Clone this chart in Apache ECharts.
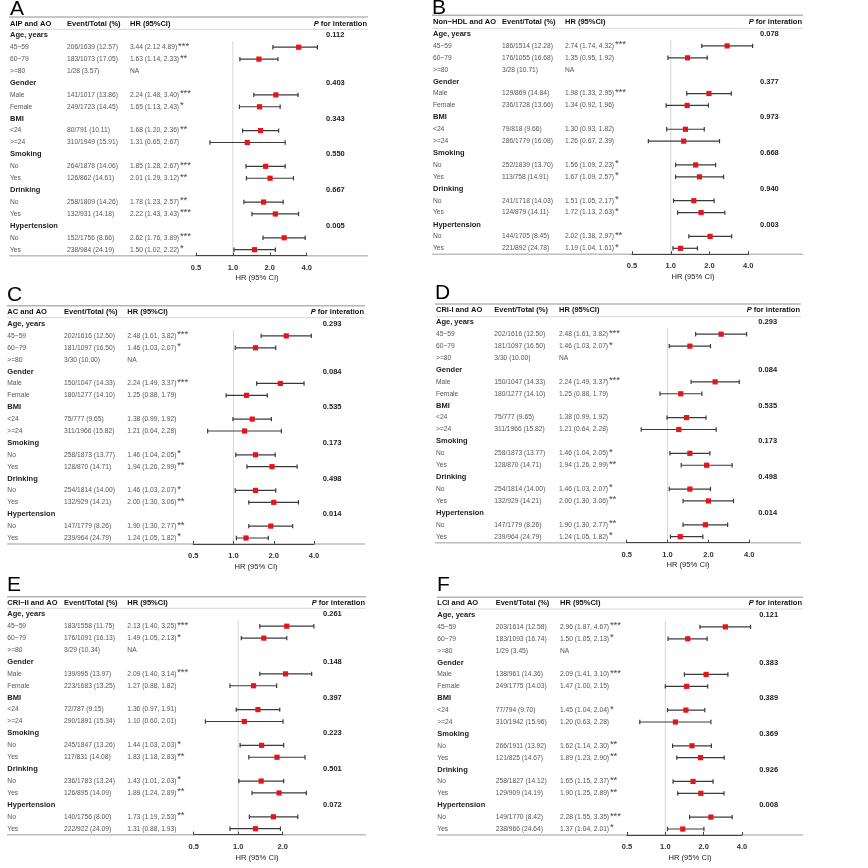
<!DOCTYPE html>
<html>
<head>
<meta charset="utf-8">
<script src="https://cdn.jsdelivr.net/npm/echarts@6.0.0/dist/echarts.min.js"></script>
<style>
  html, body { margin: 0; padding: 0; background: #fff; }
  #main { width: 868px; height: 868px; }
</style>
</head>
<body>
<div id="main"></div>
<script>
// rows of every forest plot (group headers + subgroups)
var rowLabels = ['Age, years', '45~59', '60~79', '>=80', 'Gender', 'Male', 'Female', 'BMI', '<24', '>=24',
  'Smoking', 'No', 'Yes', 'Drinking', 'No', 'Yes', 'Hypertension', 'No', 'Yes'];
var groupRows = [0, 4, 7, 10, 13, 16];
var subRows = [1, 2, 3, 5, 6, 8, 9, 11, 12, 14, 15, 17, 18];

// A: AIP
var aipEvents = ['206/1639 (12.57)', '183/1073 (17.05)', '1/28 (3.57)', '141/1017 (13.86)', '249/1723 (14.45)', '80/791 (10.11)', '310/1949 (15.91)', '264/1878 (14.06)', '126/862 (14.61)', '258/1809 (14.26)', '132/931 (14.18)', '152/1756 (8.66)', '238/984 (24.19)'];
var aipHR = [3.44, 1.63, null, 2.24, 1.65, 1.68, 1.31, 1.85, 2.01, 1.78, 2.22, 2.62, 1.50];
var aipLow = [2.12, 1.14, null, 1.48, 1.13, 1.20, 0.65, 1.28, 1.29, 1.23, 1.43, 1.76, 1.02];
var aipHigh = [4.89, 2.33, null, 3.40, 2.43, 2.36, 2.67, 2.67, 3.12, 2.57, 3.43, 3.89, 2.22];
var aipSig = ['***', '**', '', '***', '*', '**', '', '***', '**', '**', '***', '***', '*'];
var aipP = ['0.112', '0.403', '0.343', '0.550', '0.667', '0.005'];

// B: Non-HDL
var nhdlEvents = ['186/1514 (12.28)', '176/1055 (16.68)', '3/28 (10.71)', '129/869 (14.84)', '236/1728 (13.66)', '79/818 (9.66)', '286/1779 (16.08)', '252/1839 (13.70)', '113/758 (14.91)', '241/1718 (14.03)', '124/879 (14.11)', '144/1705 (8.45)', '221/892 (24.78)'];
var nhdlHR = [2.74, 1.35, null, 1.98, 1.34, 1.30, 1.26, 1.56, 1.67, 1.51, 1.72, 2.02, 1.19];
var nhdlLow = [1.74, 0.95, null, 1.33, 0.92, 0.93, 0.67, 1.09, 1.09, 1.05, 1.13, 1.38, 1.04];
var nhdlHigh = [4.32, 1.92, null, 2.95, 1.96, 1.82, 2.39, 2.23, 2.57, 2.17, 2.63, 2.97, 1.61];
var nhdlSig = ['***', '', '', '***', '', '', '', '*', '*', '*', '*', '**', '*'];
var nhdlP = ['0.078', '0.377', '0.973', '0.668', '0.940', '0.003'];

// C: AC
var acEvents = ['202/1616 (12.50)', '181/1097 (16.50)', '3/30 (10.00)', '150/1047 (14.33)', '180/1277 (14.10)', '75/777 (9.65)', '311/1966 (15.82)', '258/1873 (13.77)', '128/870 (14.71)', '254/1814 (14.00)', '132/929 (14.21)', '147/1779 (8.26)', '239/964 (24.79)'];
var acHR = [2.48, 1.46, null, 2.24, 1.25, 1.38, 1.21, 1.46, 1.94, 1.46, 2.00, 1.90, 1.24];
var acLow = [1.61, 1.03, null, 1.49, 0.88, 0.99, 0.64, 1.04, 1.26, 1.03, 1.30, 1.30, 1.05];
var acHigh = [3.82, 2.07, null, 3.37, 1.79, 1.92, 2.28, 2.05, 2.99, 2.07, 3.06, 2.77, 1.82];
var acSig = ['***', '*', '', '***', '', '', '', '*', '**', '*', '**', '**', '*'];
var acP = ['0.293', '0.084', '0.535', '0.173', '0.498', '0.014'];

// D: CRI-I
var cri1Events = ['202/1616 (12.50)', '181/1097 (16.50)', '3/30 (10.00)', '150/1047 (14.33)', '180/1277 (14.10)', '75/777 (9.65)', '311/1966 (15.82)', '258/1873 (13.77)', '128/870 (14.71)', '254/1814 (14.00)', '132/929 (14.21)', '147/1779 (8.26)', '239/964 (24.79)'];
var cri1HR = [2.48, 1.46, null, 2.24, 1.25, 1.38, 1.21, 1.46, 1.94, 1.46, 2.00, 1.90, 1.24];
var cri1Low = [1.61, 1.03, null, 1.49, 0.88, 0.99, 0.64, 1.04, 1.26, 1.03, 1.30, 1.30, 1.05];
var cri1High = [3.82, 2.07, null, 3.37, 1.79, 1.92, 2.28, 2.05, 2.99, 2.07, 3.06, 2.77, 1.82];
var cri1Sig = ['***', '*', '', '***', '', '', '', '*', '**', '*', '**', '**', '*'];
var cri1P = ['0.293', '0.084', '0.535', '0.173', '0.498', '0.014'];

// E: CRI-II
var cri2Events = ['183/1558 (11.75)', '176/1091 (16.13)', '3/29 (10.34)', '139/995 (13.97)', '223/1683 (13.25)', '72/787 (9.15)', '290/1891 (15.34)', '245/1847 (13.26)', '117/831 (14.08)', '236/1783 (13.24)', '126/895 (14.09)', '140/1756 (8.00)', '222/922 (24.09)'];
var cri2HR = [2.13, 1.49, null, 2.09, 1.27, 1.36, 1.10, 1.44, 1.83, 1.43, 1.89, 1.73, 1.31];
var cri2Low = [1.40, 1.05, null, 1.40, 0.88, 0.97, 0.60, 1.03, 1.18, 1.01, 1.24, 1.19, 0.88];
var cri2High = [3.25, 2.13, null, 3.14, 1.82, 1.91, 2.01, 2.03, 2.83, 2.03, 2.89, 2.53, 1.93];
var cri2Sig = ['***', '*', '', '***', '', '', '', '*', '**', '*', '**', '**', ''];
var cri2P = ['0.261', '0.148', '0.397', '0.223', '0.501', '0.072'];

// F: LCI
var lciEvents = ['203/1614 (12.58)', '183/1093 (16.74)', '1/29 (3.45)', '138/961 (14.36)', '249/1775 (14.03)', '77/794 (9.70)', '310/1942 (15.96)', '266/1911 (13.92)', '121/825 (14.67)', '258/1827 (14.12)', '129/909 (14.19)', '149/1770 (8.42)', '238/966 (24.64)'];
var lciHR = [2.96, 1.50, null, 2.09, 1.47, 1.45, 1.20, 1.62, 1.89, 1.65, 1.90, 2.28, 1.37];
var lciLow = [1.87, 1.05, null, 1.41, 1.00, 1.04, 0.63, 1.14, 1.23, 1.15, 1.25, 1.55, 1.04];
var lciHigh = [4.67, 2.13, null, 3.10, 2.15, 2.04, 2.28, 2.30, 2.90, 2.37, 2.89, 3.35, 2.01];
var lciSig = ['***', '*', '', '***', '', '*', '', '**', '**', '**', '**', '***', '*'];
var lciP = ['0.121', '0.383', '0.389', '0.369', '0.926', '0.008'];

var FONT = '"Liberation Sans", Arial, Helvetica, sans-serif';
var ROW_SIZE = 6.7;

// panel layout in page pixels
var panels = [
  { letter: 'A', title: 'AIP and AO', ev: aipEvents, hr: aipHR, lo: aipLow, hi: aipHigh, sig: aipSig, p: aipP,
    fix: { 0: '3.44 (2.12 4.89)' },
    lay: { lx: 10, ly: 9, tl: 9, tr: 368, topY: 17, headY: 23.7, headLineY: 29.3, r0: 35.3, r18: 249.7,
      c1: 10, c2: 67, c3: 130, pX: 326, ax0: 196, ax1: 306.7, max: 4, tx: 257, ty: 277.7 } },
  { letter: 'B', title: 'Non\u2212HDL and AO', ev: nhdlEvents, hr: nhdlHR, lo: nhdlLow, hi: nhdlHigh, sig: nhdlSig, p: nhdlP,
    fix: {},
    lay: { lx: 432, ly: 8, tl: 432, tr: 803, topY: 15.3, headY: 22.3, headLineY: 28.3, r0: 34, r18: 248.3,
      c1: 433, c2: 502, c3: 565, pX: 760, ax0: 632, ax1: 748.3, max: 4, tx: 693, ty: 276.7 } },
  { letter: 'C', title: 'AC and AO', ev: acEvents, hr: acHR, lo: acLow, hi: acHigh, sig: acSig, p: acP,
    fix: {},
    lay: { lx: 7, ly: 295.5, tl: 7, tr: 365, topY: 305.7, headY: 312, headLineY: 317.7, r0: 324, r18: 538,
      c1: 7.3, c2: 64, c3: 127.3, pX: 322.7, ax0: 193.3, ax1: 314, max: 4, tx: 256, ty: 566.7 } },
  { letter: 'D', title: 'CRI-I and AO', ev: cri1Events, hr: cri1HR, lo: cri1Low, hi: cri1High, sig: cri1Sig, p: cri1P,
    fix: {},
    lay: { lx: 435, ly: 293.5, tl: 435, tr: 801, topY: 304, headY: 310.3, headLineY: 316.7, r0: 322.3, r18: 536.7,
      c1: 436, c2: 494.3, c3: 559, pX: 758.3, ax0: 626.7, ax1: 749.3, max: 4, tx: 688, ty: 565 } },
  { letter: 'E', title: 'CRI\u2212II and AO', ev: cri2Events, hr: cri2HR, lo: cri2Low, hi: cri2High, sig: cri2Sig, p: cri2P,
    fix: {},
    lay: { lx: 7, ly: 585, tl: 7, tr: 366, topY: 596.7, headY: 602.7, headLineY: 608.3, r0: 614.3, r18: 828.7,
      c1: 7.3, c2: 64, c3: 127.3, pX: 323, ax0: 193.7, ax1: 282.7, max: 2, tx: 257, ty: 857.7 } },
  { letter: 'F', title: 'LCI and AO', ev: lciEvents, hr: lciHR, lo: lciLow, hi: lciHigh, sig: lciSig, p: lciP,
    fix: {},
    lay: { lx: 437, ly: 585, tl: 437, tr: 803, topY: 597.3, headY: 603.3, headLineY: 609, r0: 615, r18: 829,
      c1: 437.3, c2: 495.7, c3: 560, pX: 759.3, ax0: 627, ax1: 742, max: 4, tx: 690, ty: 857.7 } }
];

// measure text width so the significance stars can sit just after the HR text
var measureCtx = document.createElement('canvas').getContext('2d');
function textWidth(t, size) {
  measureCtx.font = size + 'px ' + FONT;
  return measureCtx.measureText(t).width;
}

function txt(x, y, text, size, weight, color, align) {
  return {
    type: 'text', silent: true,
    style: {
      x: x, y: y, text: text, fontSize: size, fontWeight: weight, fontFamily: FONT,
      fill: color, align: align || 'left', textAlign: align || 'left',
      verticalAlign: 'middle', textVerticalAlign: 'middle'
    }
  };
}

function hline(x1, x2, y, color, w) {
  return { type: 'line', silent: true, z: 0, shape: { x1: x1, y1: y, x2: x2, y2: y }, style: { stroke: color, lineWidth: w } };
}

function renderCI(params, api) {
  var row = api.value(1);
  var c = api.coord([api.value(0), row]);
  var l = api.coord([api.value(2), row]);
  var h = api.coord([api.value(3), row]);
  var y = c[1];
  var st = { stroke: '#3a3a3a', lineWidth: 1.2 };
  return {
    type: 'group',
    children: [
      { type: 'line', shape: { x1: l[0], y1: y, x2: h[0], y2: y }, style: st },
      { type: 'line', shape: { x1: l[0], y1: y - 2.2, x2: l[0], y2: y + 2.2 }, style: st },
      { type: 'line', shape: { x1: h[0], y1: y - 2.2, x2: h[0], y2: y + 2.2 }, style: st },
      { type: 'rect', shape: { x: c[0] - 2.6, y: y - 2.6, width: 5.2, height: 5.2 }, style: { fill: '#e8141b' } }
    ]
  };
}

function hrText(P, k) {
  if (P.fix[k]) return P.fix[k];
  if (P.hr[k] == null) return 'NA';
  return P.hr[k].toFixed(2) + ' (' + P.lo[k].toFixed(2) + ', ' + P.hi[k].toFixed(2) + ')';
}

function makeTextRender(P) {
  var L = P.lay;
  return function (params, api) {
    var i = params.dataIndex;
    var y = api.coord([1, i])[1];
    var children = [];
    var g = groupRows.indexOf(i);
    if (g >= 0) {
      children.push(txt(L.c1, y, rowLabels[i], 7.5, 'bold', '#222'));
      children.push(txt(L.pX, y, P.p[g], 7.5, 'bold', '#222'));
    } else {
      var k = subRows.indexOf(i);
      children.push(txt(L.c1, y, rowLabels[i], ROW_SIZE, 'normal', '#555'));
      children.push(txt(L.c2, y, P.ev[k], ROW_SIZE, 'normal', '#555'));
      var t = hrText(P, k);
      children.push(txt(L.c3, y, t, ROW_SIZE, 'normal', '#555'));
      if (P.sig[k]) {
        var sx = L.c3 + textWidth(t, ROW_SIZE) + 0.8;
        children.push(txt(sx, y - 1.2, P.sig[k], 9.5, 'normal', '#444'));
      }
    }
    return { type: 'group', children: children };
  };
}

var grids = [], xAxes = [], yAxes = [], series = [], graphics = [];

panels.forEach(function (P, k) {
  var L = P.lay;
  var step = (L.r18 - L.r0) / 18;
  var top = L.r0 + step / 2;
  var height = step * 18;
  grids.push({ left: L.ax0, top: top, width: L.ax1 - L.ax0, height: height, containLabel: false });
  xAxes.push({
    type: 'log', logBase: 2, min: 0.5, max: L.max, interval: 1, gridIndex: k, z: 5,
    axisLine: { show: true, lineStyle: { color: '#444', width: 1 } },
    axisTick: { show: true, inside: true, length: 3, lineStyle: { color: '#444', width: 1 } },
    axisLabel: {
      margin: 8, fontSize: 7.5, fontWeight: 'bold', color: '#333', fontFamily: FONT,
      formatter: function (v) { return (+v).toFixed(1); }
    },
    splitLine: { show: false }, minorTick: { show: false }
  });
  yAxes.push({ type: 'value', min: 0.5, max: 18.5, inverse: true, gridIndex: k, show: false });

  // reference line at HR = 1
  series.push({
    type: 'line', xAxisIndex: k, yAxisIndex: k, data: [[1, 0.5], [1, 18.5]],
    symbol: 'none', silent: true, z: 1, lineStyle: { color: '#d6d6d6', width: 1 }
  });

  var ci = [];
  subRows.forEach(function (r, j) {
    if (P.hr[j] != null) ci.push([P.hr[j], r, P.lo[j], P.hi[j]]);
  });
  series.push({
    type: 'custom', xAxisIndex: k, yAxisIndex: k, data: ci, clip: false, z: 3,
    encode: { x: 0, y: 1 }, renderItem: renderCI, silent: true
  });

  series.push({
    type: 'custom', xAxisIndex: k, yAxisIndex: k, clip: false, z: 3, silent: true,
    data: rowLabels.map(function (_, i) { return [1, i]; }),
    encode: { x: 0, y: 1 }, renderItem: makeTextRender(P)
  });

  // table frame, header and titles
  var axisY = top + height;
  graphics.push(txt(L.lx, L.ly, P.letter, 21, 'normal', '#000'));
  graphics.push(hline(L.tl, L.tr, L.topY, '#b4b4b4', 1.6));
  graphics.push(hline(L.tl, L.tr, L.headLineY, '#d8d8d8', 1));
  graphics.push(hline(L.tl, L.tr, axisY, '#bdbdbd', 1.5));
  graphics.push(txt(L.c1, L.headY, P.title, 7.5, 'bold', '#111'));
  graphics.push(txt(L.c2, L.headY, 'Event/Total (%)', 7.5, 'bold', '#111'));
  graphics.push(txt(L.c3, L.headY, 'HR (95%CI)', 7.5, 'bold', '#111'));
  var ph = txt(L.tr - 1, L.headY, '{i|P} for interation', 7.5, 'bold', '#111', 'right');
  ph.style.rich = { i: { fontStyle: 'italic', fontWeight: 'bold', fontSize: 7.5, fontFamily: FONT, fill: '#111' } };
  graphics.push(ph);
  graphics.push(txt(L.tx, L.ty, 'HR (95% CI)', 7.6, 'normal', '#222', 'center'));
});

var chart = echarts.init(document.getElementById('main'), null, { renderer: 'canvas' });
chart.setOption({
  backgroundColor: '#fff',
  animation: false,
  grid: grids,
  xAxis: xAxes,
  yAxis: yAxes,
  series: series,
  graphic: { elements: graphics }
});
window.onresize = chart.resize;
</script>
</body>
</html>
